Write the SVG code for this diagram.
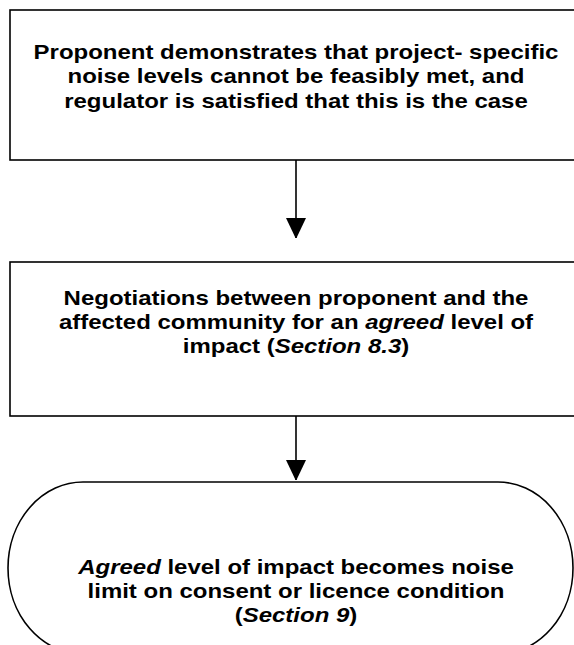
<svg xmlns="http://www.w3.org/2000/svg" width="574" height="645" viewBox="0 0 574 645">
<style>
.box{fill:#fff;stroke:#000;stroke-width:1.6}
.t{font-family:"Liberation Sans",Arial,sans-serif;font-weight:bold;font-size:20.5px;fill:#000;text-anchor:middle}
.i{font-style:italic}
.conn{stroke:#000;stroke-width:1.6;fill:none}
</style>
<defs>
<marker id="ah" markerWidth="20" markerHeight="21" refX="20" refY="10" orient="auto" markerUnits="userSpaceOnUse">
<path d="M0,0 L21,10 L0,20 z" fill="#000"/>
</marker>
</defs>
<g id="node1">
<rect class="box" x="10" y="10" width="572" height="150"/>
<g transform="translate(296,0) scale(1.17,1)">
<text class="t" x="0" y="59">Proponent demonstrates that project- specific</text>
<text class="t" x="0" y="83">noise levels cannot be feasibly met, and</text>
<text class="t" x="0" y="108">regulator is satisfied that this is the case</text>
</g>
</g>
<g id="node2">
<rect class="box" x="10" y="262" width="572" height="154"/>
<g transform="translate(296,0) scale(1.17,1)">
<text class="t" x="0" y="305">Negotiations between proponent and the</text>
<text class="t" x="0" y="329">affected community for an <tspan class="i">agreed</tspan> level of</text>
<text class="t" x="0" y="353">impact (<tspan class="i">Section 8.3</tspan>)</text>
</g>
</g>
<g id="node3">
<rect class="box" x="8" y="482" width="565" height="172" rx="75" ry="86"/>
<g transform="translate(296,0) scale(1.17,1)">
<text class="t" x="0" y="574"><tspan class="i">Agreed</tspan> level of impact becomes noise</text>
<text class="t" x="0" y="598">limit on consent or licence condition</text>
<text class="t" x="0" y="622">(<tspan class="i">Section 9</tspan>)</text>
</g>
</g>
<g id="connectors">
<line class="conn" x1="296" y1="160" x2="296" y2="238" marker-end="url(#ah)"/>
<line class="conn" x1="296" y1="416" x2="296" y2="480" marker-end="url(#ah)"/>
</g>
</svg>
